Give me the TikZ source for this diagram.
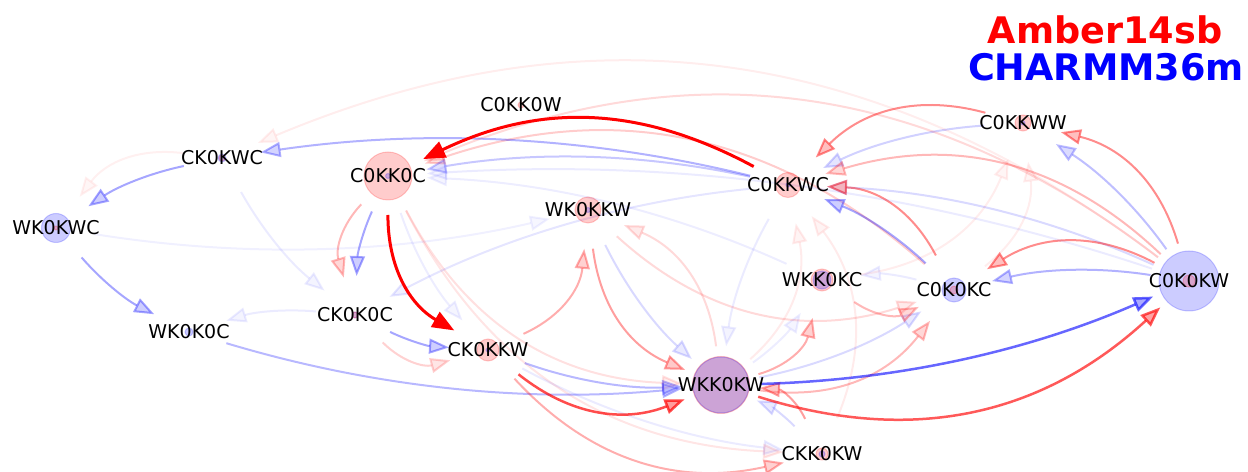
\documentclass[tikz,border=0pt]{standalone}
\usepackage{fontspec}
\setmainfont{DejaVu Sans}
\usetikzlibrary{arrows.meta}
\tikzset{
  nd/.style={circle, minimum size=78bp, inner sep=0pt, outer sep=0pt},
  lbl/.style={font=\fontsize{19bp}{21bp}\selectfont, text=black, text height=13.8bp, text depth=0pt, inner sep=0pt},
  ed/.style 2 args={draw=#1, opacity=#2, line width=2bp, line cap=butt,
    -{Triangle[length=20bp,width=15bp,fill=#1!55!white]}},
  redE/.style={ed={red}{#1}, bend right=30},
  blueE/.style={ed={blue}{#1}, bend right=11, looseness=0.87},
  strong/.style={line width=3bp, -{Triangle[length=22bp,width=17bp]}},
  rc/.style={fill=red, draw=red, line width=1bp, opacity=0.2},
  bc/.style={fill=blue, draw=blue, line width=1bp, opacity=0.2},
  ttl/.style={font=\fontsize{36.6bp}{40bp}\selectfont\bfseries, anchor=base, inner sep=0pt}
}
\begin{document}
\begin{tikzpicture}[x=1bp, y=-1bp]
\fill[white] (0,0) rectangle (1248,472);
\useasboundingbox (0,0) rectangle (1248,472);

% attachment nodes
\node[nd] (C0KK0W) at (521,105) {};
\node[nd] (CK0KWC) at (222,158) {};
\node[nd] (C0KK0C) at (388,176) {};
\node[nd] (C0KKWC) at (788,185) {};
\node[nd] (C0KKWW) at (1023,123) {};
\node[nd] (WK0KKW) at (588,210) {};
\node[nd] (WK0KWC) at (56,228) {};
\node[nd] (WKK0KC) at (822,280) {};
\node[nd] (C0K0KC) at (954,290) {};
\node[nd] (C0K0KW) at (1189,281) {};
\node[nd] (WK0K0C) at (189,332) {};
\node[nd] (CK0K0C) at (355,315) {};
\node[nd] (CK0KKW) at (488,350) {};
\node[nd] (WKK0KW) at (721,385) {};
\node[nd] (CKK0KW) at (822,454) {};

% faint red edges
\draw[redE=0.07] (C0K0KW) to (CK0KWC);
\draw[redE=0.06] (CK0KWC) to (WK0KWC);
\draw[redE=0.08] (WKK0KW) to (C0KKWC);
\draw[redE=0.08] (CKK0KW) to (C0KKWC);
\draw[redE=0.07] (C0K0KC) to (C0KKWW);
\draw[redE=0.07] (WKK0KC) to (C0KKWW);
\draw[redE=0.1] (C0KK0C) to (CKK0KW);
\draw[redE=0.12] (C0KK0C) to (WKK0KW);
\draw[redE=0.15] (WKK0KW) to (WK0KKW);
\draw[redE=0.15] (WK0KKW) to (C0K0KC);
\draw[redE=0.15] (C0K0KW) to (C0KK0C);
\draw[redE=0.2] (C0K0KC) to (C0KK0C);
\draw[redE=0.18] (CK0K0C) to (CK0KKW);

% faint blue edges
\draw[blueE=0.06] (WK0KWC) to (WK0KKW);
\draw[blueE=0.07] (WKK0KC) to (C0KK0C);
\draw[blueE=0.08] (C0K0KW) to (C0KK0C);
\draw[blueE=0.08] (C0K0KC) to (WKK0KC);
\draw[blueE=0.08] (CK0K0C) to (WK0K0C);
\draw[blueE=0.08] (CK0KWC) to (CK0K0C);
\draw[blueE=0.1] (C0KKWC) to (CK0K0C);
\draw[blueE=0.08] (C0KKWC) to (WKK0KW);
\draw[blueE=0.07] (C0KK0C) to (CK0KKW);
\draw[blueE=0.08] (CK0KKW) to (CKK0KW);
\draw[blueE=0.07] (WKK0KW) to (WKK0KC);
\draw[blueE=0.15] (WK0KKW) to (WKK0KW);
\draw[blueE=0.15] (WKK0KW) to (C0K0KC);
\draw[blueE=0.15] (CKK0KW) to (WKK0KW);
\draw[blueE=0.15] (C0K0KW) to (C0KKWC);
\draw[blueE=0.18] (C0KKWW) to (C0KKWC);

% medium blue edges
\draw[blueE=0.3] (C0KKWC) to (CK0KWC);
\draw[blueE=0.35] (CK0KWC) to (WK0KWC);
\draw[blueE=0.35] (WK0KWC) to (WK0K0C);
\draw[blueE=0.28] (WK0K0C) to (WKK0KW);
\draw[blueE=0.28] (CK0KKW) to (WKK0KW);
\draw[blueE=0.35] (CK0K0C) to (CK0KKW);
\draw[blueE=0.35] (C0KK0C) to (CK0K0C);
\draw[blueE=0.35] (C0K0KC) to (C0KKWC);
\draw[blueE=0.25] (C0K0KW) to (C0KKWW);
\draw[blueE=0.3] (C0K0KW) to (C0K0KC);
\draw[blueE=0.22] (C0KKWC) to (C0KK0C);

% medium red edges
\draw[redE=0.45] (C0KKWW) to (C0KKWC);
\draw[redE=0.45] (C0K0KW) to (C0KKWW);
\draw[redE=0.45] (C0K0KW) to (C0K0KC);
\draw[redE=0.45] (C0K0KC) to (C0KKWC);
\draw[redE=0.28] (C0K0KW) to (C0KKWC);
\draw[redE=0.38] (WK0KKW) to (WKK0KW);
\draw[redE=0.32] (CK0KKW) to (WK0KKW);
\draw[redE=0.32] (WKK0KW) to (WKK0KC);
\draw[redE=0.28] (WKK0KW) to (C0K0KC);
\draw[redE=0.28] (WKK0KC) to (C0K0KC);
\draw[redE=0.38] (CKK0KW) to (WKK0KW);
\draw[redE=0.32] (CK0KKW) to (CKK0KW);
\draw[redE=0.28] (C0KK0C) to (CK0K0C);

% strong edges
\draw[blueE=0.6, line width=2.5bp] (WKK0KW) to (C0K0KW);
\draw[redE=0.65, line width=2.5bp] (WKK0KW) to (C0K0KW);
\draw[redE=0.7, line width=2.5bp] (CK0KKW) to (WKK0KW);
\draw[redE=1, strong, bend right=27] (C0KKWC) to (C0KK0C);
\draw[redE=1, strong] (C0KK0C) to (CK0KKW);

% visible node discs
\fill[rc] (C0KK0W.center) circle[radius=3bp];
\fill[rc] (CK0KWC.center) circle[radius=3bp];
\fill[bc] (CK0KWC.center) circle[radius=4bp];
\fill[rc] (C0KK0C.center) circle[radius=24bp];
\fill[bc] (C0KK0C.center) circle[radius=2.5bp];
\fill[rc] (C0KKWC.center) circle[radius=12.5bp];
\fill[bc] (C0KKWC.center) circle[radius=2bp];
\fill[rc] (C0KKWW.center) circle[radius=8bp];
\fill[bc] (C0KKWW.center) circle[radius=2bp];
\fill[rc] (WK0KKW.center) circle[radius=13bp];
\fill[bc] (WK0KKW.center) circle[radius=2.5bp];
\fill[bc] (WK0KWC.center) circle[radius=14.5bp];
\fill[rc] (WK0KWC.center) circle[radius=2bp];
\fill[rc] (WKK0KC.center) circle[radius=11bp];
\fill[bc] (WKK0KC.center) circle[radius=9bp];
\fill[bc] (C0K0KC.center) circle[radius=12bp];
\fill[rc] (C0K0KC.center) circle[radius=4bp];
\fill[bc] (C0K0KW.center) circle[radius=30bp];
\fill[rc] (C0K0KW.center) circle[radius=6bp];
\fill[bc] (WK0K0C.center) circle[radius=4bp];
\fill[bc] (CK0K0C.center) circle[radius=3bp];
\fill[rc] (CK0K0C.center) circle[radius=3bp];
\fill[rc] (CK0KKW.center) circle[radius=11bp];
\fill[bc] (CK0KKW.center) circle[radius=2bp];
\fill[rc] (WKK0KW.center) circle[radius=28.5bp];
\fill[bc] (WKK0KW.center) circle[radius=28bp];
\fill[rc] (CKK0KW.center) circle[radius=6bp];
\fill[bc] (CKK0KW.center) circle[radius=3bp];

% labels
\node[lbl] (C0KK0W-t) at (C0KK0W.center) {C0KK0W};
\node[lbl] (CK0KWC-t) at (CK0KWC.center) {CK0KWC};
\node[lbl] (C0KK0C-t) at (C0KK0C.center) {C0KK0C};
\node[lbl] (C0KKWC-t) at (C0KKWC.center) {C0KKWC};
\node[lbl] (C0KKWW-t) at (C0KKWW.center) {C0KKWW};
\node[lbl] (WK0KKW-t) at (WK0KKW.center) {WK0KKW};
\node[lbl] (WK0KWC-t) at (WK0KWC.center) {WK0KWC};
\node[lbl] (WKK0KC-t) at (WKK0KC.center) {WKK0KC};
\node[lbl] (C0K0KC-t) at (C0K0KC.center) {C0K0KC};
\node[lbl] (C0K0KW-t) at (C0K0KW.center) {C0K0KW};
\node[lbl] (WK0K0C-t) at (WK0K0C.center) {WK0K0C};
\node[lbl] (CK0K0C-t) at (CK0K0C.center) {CK0K0C};
\node[lbl] (CK0KKW-t) at (CK0KKW.center) {CK0KKW};
\node[lbl] (WKK0KW-t) at (WKK0KW.center) {WKK0KW};
\node[lbl] (CKK0KW-t) at (CKK0KW.center) {CKK0KW};

% titles
\node[ttl, text=red] (title1) at (1105,44) {Amber14sb};
\node[ttl, text=blue] (title2) at (1106,81) {CHARMM36m};
\end{tikzpicture}
\end{document}
